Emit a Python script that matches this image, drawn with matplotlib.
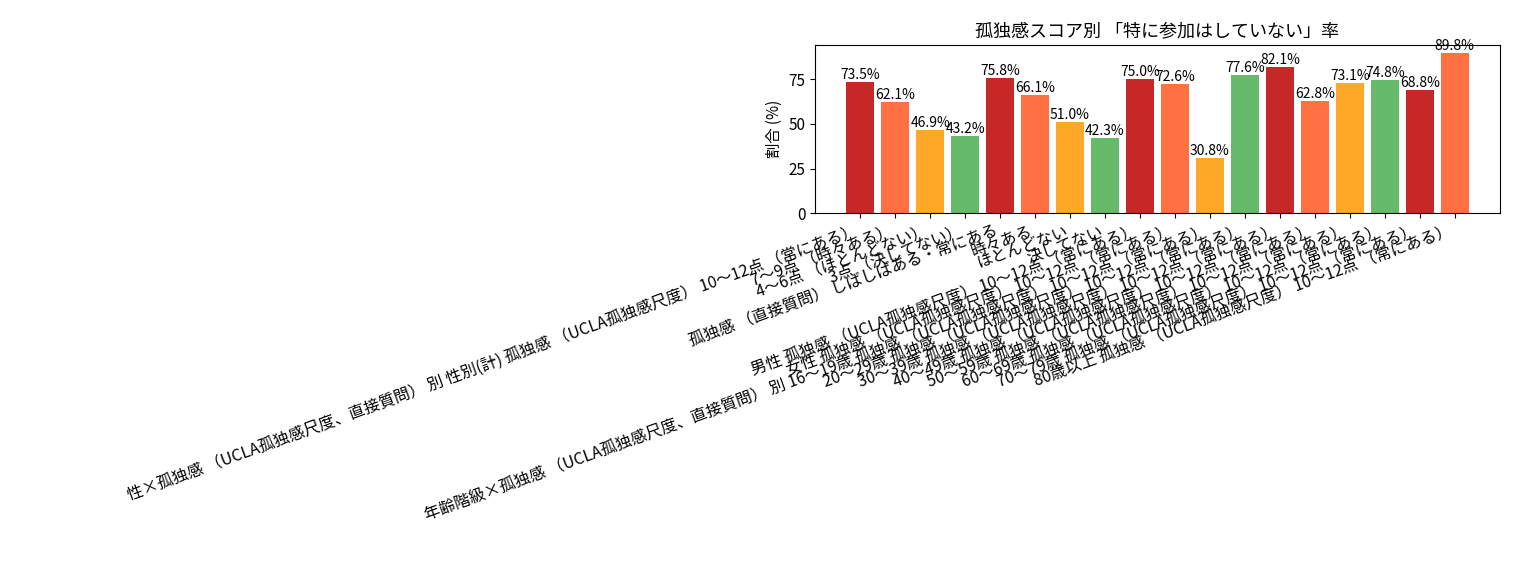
import matplotlib
matplotlib.use("Agg")
import matplotlib.pyplot as plt

plt.rcParams['font.family'] = ['Noto Sans CJK JP', 'DejaVu Sans']

ucla = "孤独感 （UCLA孤独感尺度） 10～12点 （常にある）"
labels = [
    "性×孤独感 （UCLA孤独感尺度、直接質問） 別 性別(計) 孤独感 （UCLA孤独感尺度） 10～12点 （常にある）",
    "7～9点 （時々ある）",
    "4～6点 （ほとんどない）",
    "3点 （決してない）",
    "孤独感 （直接質問） しばしばある・常にある",
    "時々ある",
    "ほとんどない",
    "決してない",
    "男性 " + ucla,
    "女性 " + ucla,
    "年齢階級×孤独感 （UCLA孤独感尺度、直接質問） 別 16～19歳 " + ucla,
    "20～29歳 " + ucla,
    "30～39歳 " + ucla,
    "40～49歳 " + ucla,
    "50～59歳 " + ucla,
    "60～69歳 " + ucla,
    "70～79歳 " + ucla,
    "80歳以上 " + ucla,
]
values = [73.5, 62.1, 46.9, 43.2, 75.8, 66.1, 51.0, 42.3, 75.0, 72.6,
          30.8, 77.6, 82.1, 62.8, 73.1, 74.8, 68.8, 89.8]
palette = ["#c62828", "#ff7043", "#ffa726", "#66bb6a"]
colors = [palette[i % 4] for i in range(len(values))]

fig = plt.figure(figsize=(15.15, 5.84), dpi=100)
ax = fig.add_axes([0.538, 0.635, 0.452, 0.288])
x = list(range(len(values)))
bars = ax.bar(x, values, color=colors, width=0.8)
for b, v in zip(bars, values):
    ax.text(b.get_x() + b.get_width() / 2, v, f"{v:.1f}%", ha='center', va='bottom', fontsize=10)
ax.set_xticks(x)
ax.set_xticklabels(labels, rotation=20, ha='right', fontsize=11.5)
ax.set_yticks([0, 25, 50, 75])
ax.set_ylim(0, 94.3)
ax.set_ylabel("割合 (%)", fontsize=11)
ax.set_title("孤独感スコア別 「特に参加はしていない」率", fontsize=13)
ax.tick_params(labelsize=11, axis='y')
fig.savefig("out.png", dpi=100)
